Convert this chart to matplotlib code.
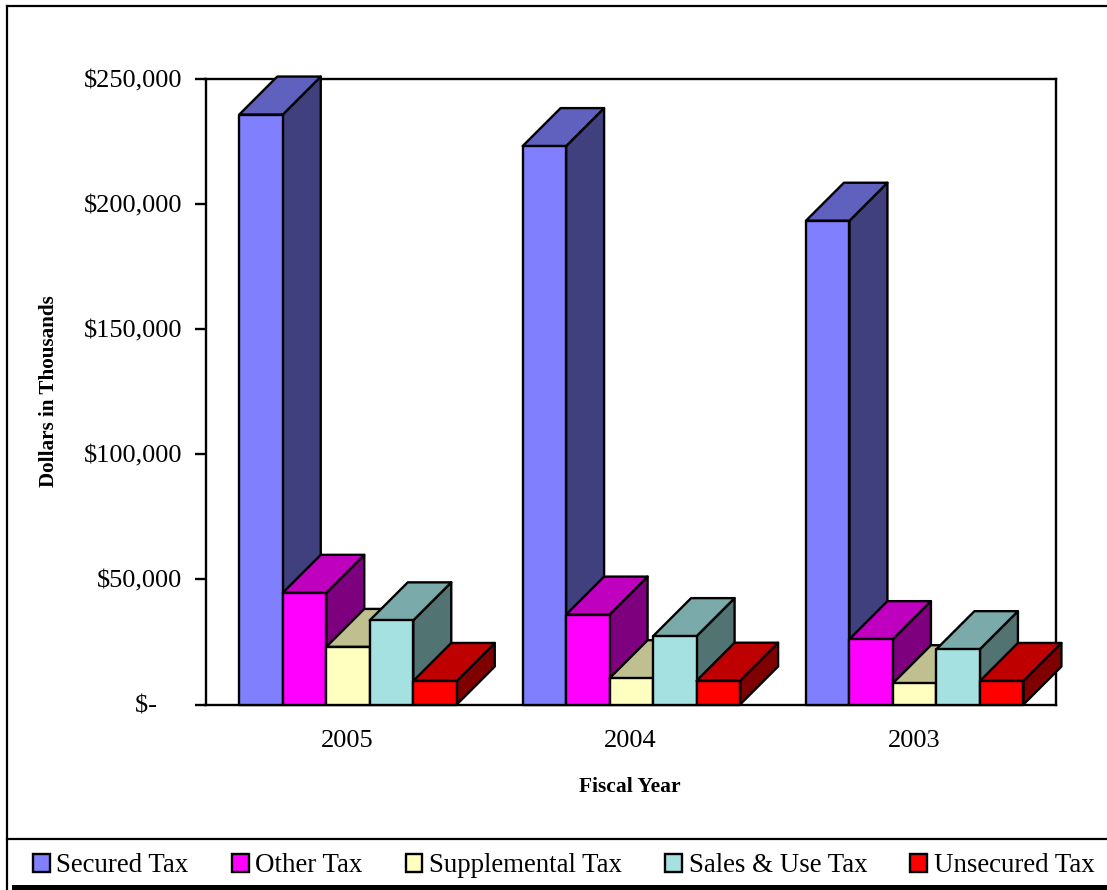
import matplotlib
matplotlib.use("Agg")
import matplotlib.pyplot as plt
from matplotlib.patches import Patch, Rectangle
from matplotlib.lines import Line2D
from matplotlib.ticker import FuncFormatter

years = ["2005", "2004", "2003"]
series_names = ["Secured Tax", "Other Tax", "Supplemental Tax", "Sales & Use Tax", "Unsecured Tax"]
secured = [235600, 223000, 193200]
other = [44600, 35900, 26100]
supplemental = [23000, 10500, 8500]
sales_use = [33600, 27300, 22100]
unsecured = [9400, 9500, 9400]
front_colors = ["#8080FF", "#FF00FF", "#FFFFC0", "#A6E1E1", "#FF0000"]
top_colors = ["#6060BF", "#BF00BF", "#BFBF90", "#7AABAA", "#BF0000"]
side_colors = ["#40407F", "#7F007F", "#7F7F60", "#517371", "#7F0000"]

W, H = 1107, 890
plt.rcParams["font.family"] = ["Liberation Serif", "DejaVu Serif"]
fig = plt.figure(figsize=(W / 100, H / 100), dpi=100)

def fx(x):
    return x / W

def fy(y):
    return 1 - y / H

# chart frame and legend box, pixel-positioned on the figure
fig.add_artist(Line2D([fx(7), fx(7)], [fy(6), fy(890)], color="black", lw=1.6))
fig.add_artist(Line2D([fx(7), fx(1107)], [fy(6), fy(6)], color="black", lw=1.6))
fig.add_artist(Line2D([fx(7), fx(1107)], [fy(838.5), fy(838.5)], color="black", lw=1.6))
fig.add_artist(Rectangle((fx(12), 0), fx(1095), fy(885), transform=fig.transFigure, color="black", lw=0))

L, R, T, B = 205.5, 1055.5, 78.5, 704.5
ax = fig.add_axes([fx(L), fy(B), fx(R - L), (B - T) / H])
ax.set_xlim(-0.5, 2.5)
ax.set_ylim(0, 250000)
for s in ax.spines.values():
    s.set_linewidth(1.7)
    s.set_color("black")

bar_w = 43.5 * 3 / (R - L)
depth_x = 38 * 3 / (R - L)
depth_y = 38 * 250000 / (B - T)
group_shift = 0.003
all_series = [secured, other, supplemental, sales_use, unsecured]
edge = dict(edgecolor="black", linewidth=1.7, joinstyle="round", clip_on=False)

zorder = 3
for i, vals in enumerate(all_series):
    for j, v in enumerate(vals):
        x0 = j + group_shift + (i - 2.5) * bar_w
        x1 = x0 + bar_w
        ax.fill([x1, x1 + depth_x, x1 + depth_x, x1],
                [0, depth_y, v + depth_y, v],
                facecolor=side_colors[i], zorder=zorder, **edge)
        ax.fill([x0, x0 + depth_x, x1 + depth_x, x1],
                [v, v + depth_y, v + depth_y, v],
                facecolor=top_colors[i], zorder=zorder, **edge)
        ax.bar(x0, v, width=bar_w, align="edge", facecolor=front_colors[i],
               zorder=zorder + 0.5, **edge)
    zorder += 1

ax.set_xticks(range(3))
ax.set_xticklabels(years)
ax.set_yticks(range(0, 250001, 50000))
ax.yaxis.set_major_formatter(FuncFormatter(lambda v, p: "$-   \u2009" if v == 0 else f"${v:,.0f}"))
ax.tick_params(axis="y", direction="out", length=8, width=1.7, pad=8.5, labelsize=19)
ax.tick_params(axis="x", length=0, pad=18.5, labelsize=19)

fig.text(fx(49), fy(391), "Dollars in Thousands", rotation=90, ha="center", va="center",
         fontsize=15.2, fontweight="bold")
fig.text(fx(629.5), fy(787), "Fiscal Year", ha="center", va="center", fontsize=15.5, fontweight="bold")

handles = [Patch(facecolor=c, edgecolor="black", linewidth=1.7) for c in front_colors]
fig.legend(handles, series_names, ncol=5, loc="center left",
           bbox_to_anchor=(fx(33), fy(866)), frameon=False, fontsize=19.4,
           handlelength=0.62, handleheight=0.62, handletextpad=0.25,
           columnspacing=1.6, borderpad=0, borderaxespad=0)

fig.savefig("out.png", dpi=100)
